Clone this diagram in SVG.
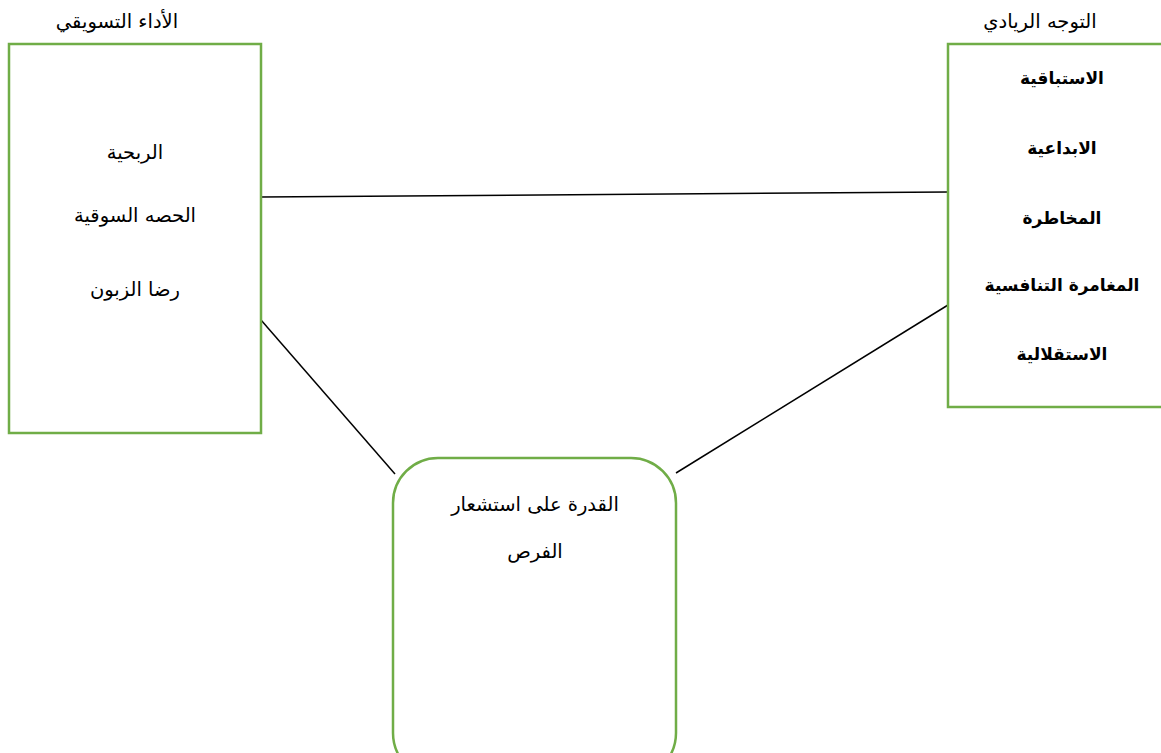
<svg xmlns="http://www.w3.org/2000/svg" width="1161" height="753" viewBox="0 0 1161 753">
<style>
.box{fill:#fff;stroke:#70AD47;stroke-width:2.5}
.t{font-family:"DejaVu Sans","Liberation Sans",sans-serif;font-size:19.5px;fill:#000;text-anchor:middle;direction:rtl}
.b{font-weight:bold;font-size:17px}
.c{stroke:#000;stroke-width:1.5;fill:none}
</style>
<rect width="1161" height="753" fill="#fff"/>
<g id="connectors">
<line class="c" x1="261" y1="197" x2="948" y2="192"/>
<line class="c" x1="261" y1="320" x2="395" y2="474"/>
<line class="c" x1="676" y1="473" x2="948" y2="305"/>
</g>
<g id="marketing">
<text class="t" x="117" y="28">الأداء التسويقي</text>
<rect class="box" x="9" y="44" width="252" height="389"/>
<text class="t" x="135" y="159">الربحية</text>
<text class="t" x="135" y="222">الحصه السوقية</text>
<text class="t" x="135" y="296">رضا الزبون</text>
</g>
<g id="entrepreneurial">
<text class="t" x="1040" y="28">التوجه الريادي</text>
<rect class="box" x="948" y="44" width="220" height="363"/>
<text class="t b" x="1062" y="84">الاستباقية</text>
<text class="t b" x="1062" y="154">الابداعية</text>
<text class="t b" x="1062" y="224">المخاطرة</text>
<text class="t b" x="1062" y="291">المغامرة التنافسية</text>
<text class="t b" x="1062" y="360">الاستقلالية</text>
</g>
<g id="opportunity">
<rect class="box" x="393" y="458" width="283" height="320" rx="45" ry="45"/>
<text class="t" x="535" y="511">القدرة على استشعار</text>
<text class="t" x="535" y="558">الفرص</text>
</g>
</svg>
